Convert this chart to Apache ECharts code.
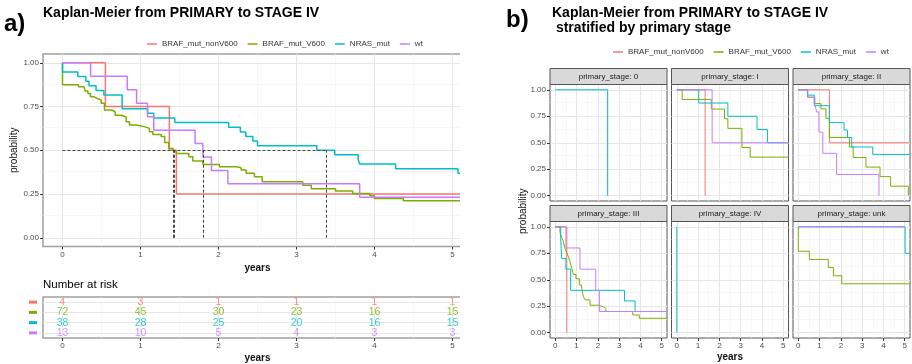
<!DOCTYPE html>
<html>
<head>
<meta charset="utf-8">
<script src="https://cdn.jsdelivr.net/npm/echarts@6/dist/echarts.min.js"></script>
<style>
  html, body { margin: 0; padding: 0; background: #fff; }
  #chart { width: 912px; height: 364px; }
</style>
</head>
<body>
<div id="chart"></div>
<script>
const groups = ["BRAF_mut_nonV600", "BRAF_mut_V600", "NRAS_mut", "wt"];
const groupColors = ["#F8766D", "#7CAE00", "#00BFC4", "#C77CFF"];

// overall curves, [years, survival probability]
const kmNonV600 = [[0, 1], [0.55, 0.75], [1.37, 0.5], [1.46, 0.25], [5.25, 0.25]];
const kmV600 = [[0, 1], [0, 0.875], [0.205, 0.863], [0.274, 0.853], [0.291, 0.838], [0.325, 0.825],
  [0.359, 0.806], [0.402, 0.796], [0.444, 0.787], [0.496, 0.768], [0.538, 0.73], [0.632, 0.72],
  [0.675, 0.70], [0.752, 0.69], [0.816, 0.663], [0.859, 0.644], [0.944, 0.635], [1.05, 0.625],
  [1.115, 0.606], [1.158, 0.59], [1.265, 0.578], [1.31, 0.545], [1.363, 0.51], [1.42, 0.497],
  [1.457, 0.482], [1.62, 0.463], [1.671, 0.438], [1.80, 0.419], [2.013, 0.406], [2.23, 0.40],
  [2.29, 0.387], [2.355, 0.368], [2.46, 0.349], [2.56, 0.32], [3.08, 0.30], [3.19, 0.28],
  [3.5, 0.267], [3.72, 0.253], [3.94, 0.24], [4.0, 0.225], [4.37, 0.211], [5.25, 0.211]];
const kmNras = [[0, 1], [0, 0.947], [0.196, 0.921], [0.30, 0.895], [0.34, 0.868], [0.43, 0.842],
  [0.53, 0.816], [0.765, 0.737], [1.09, 0.711], [1.17, 0.684], [1.44, 0.658], [2.13, 0.632],
  [2.28, 0.605], [2.35, 0.579], [2.44, 0.553], [2.50, 0.526], [3.26, 0.50], [3.49, 0.474],
  [3.79, 0.447], [3.81, 0.421], [4.27, 0.395], [5.07, 0.368], [5.25, 0.368]];
const kmWt = [[0, 1], [0.36, 0.923], [0.83, 0.846], [0.95, 0.769], [1.09, 0.692], [1.17, 0.615],
  [1.70, 0.538], [1.80, 0.462], [1.91, 0.385], [2.12, 0.308], [3.81, 0.231], [5.25, 0.231]];
const medians = [1.415, 1.435, 1.80, 3.375];

// number at risk
const riskTimes = [0, 1, 2, 3, 4, 5];
const riskNonV600 = [4, 3, 1, 1, 1, 1];
const riskV600 = [72, 45, 30, 23, 16, 15];
const riskNras = [38, 28, 25, 20, 16, 15];
const riskWt = [13, 10, 5, 4, 3, 3];

// curves by primary stage
const stageLabels = ["0", "I", "II", "III", "IV", "unk"];
const stage0 = { NRAS_mut: [[0, 1], [2.46, 0]] };
const stageI = {
  BRAF_mut_nonV600: [[0, 1], [1.33, 0]],
  BRAF_mut_V600: [[0, 1], [0.25, 0.909], [1.62, 0.818], [2.24, 0.727], [2.40, 0.636], [3.06, 0.455], [3.45, 0.364], [5.25, 0.364]],
  NRAS_mut: [[0, 1], [1.03, 0.875], [2.40, 0.75], [3.77, 0.625], [4.26, 0.5], [5.25, 0.5]],
  wt: [[0, 1], [1.66, 0.5], [5.25, 0.5]],
};
const stageII = {
  BRAF_mut_nonV600: [[0, 1], [1.46, 0.5], [5.25, 0.5]],
  BRAF_mut_V600: [[0, 1], [0.43, 0.93], [0.75, 0.87], [1.06, 0.82], [1.30, 0.73], [1.46, 0.55], [2.40, 0.46], [2.58, 0.36], [3.18, 0.27], [3.84, 0.18], [4.34, 0.09], [5.17, 0]],
  NRAS_mut: [[0, 1], [0.43, 0.95], [0.75, 0.85], [1.46, 0.69], [2.15, 0.62], [2.31, 0.55], [2.51, 0.46], [3.50, 0.39], [5.25, 0.39]],
  wt: [[0, 1], [0.45, 0.93], [0.78, 0.86], [0.86, 0.79], [0.97, 0.6], [1.15, 0.4], [1.80, 0.2], [3.79, 0]],
};
const stageIII = {
  BRAF_mut_nonV600: [[0, 1], [0.54, 0]],
  BRAF_mut_V600: [[0, 1], [0.22, 0.95], [0.3, 0.9], [0.38, 0.86], [0.45, 0.8], [0.53, 0.76], [0.61, 0.72], [0.69, 0.67], [0.77, 0.61], [0.85, 0.55], [0.97, 0.51], [1.13, 0.45], [1.24, 0.42], [1.32, 0.34], [1.40, 0.31], [1.63, 0.26], [2.02, 0.245], [2.26, 0.23], [2.38, 0.2], [3.64, 0.167], [3.95, 0.136], [5.25, 0.136]],
  NRAS_mut: [[0, 1], [0.25, 0.9], [0.3, 0.7], [0.5, 0.6], [0.72, 0.4], [3.25, 0.3], [3.75, 0.2], [5.25, 0.2]],
  wt: [[0, 1], [0.5, 0.8], [1.16, 0.6], [1.9, 0.4], [2.07, 0.2], [5.25, 0.2]],
};
const stageIV = { NRAS_mut: [[0, 1], [0, 0]] };
const stageUnk = {
  BRAF_mut_V600: [[0, 1], [0, 0.769], [0.52, 0.692], [1.41, 0.615], [1.65, 0.538], [2.04, 0.462], [5.25, 0.462]],
  NRAS_mut: [[0, 1], [5.02, 0.75], [5.25, 0.75]],
  wt: [[0, 1], [5.02, 1]],
};
const stages = [stage0, stageI, stageII, stageIII, stageIV, stageUnk];

const yearTicks = [0, 1, 2, 3, 4, 5];
const yearMinor = [0.5, 1.5, 2.5, 3.5, 4.5];
const probTicks = [0, 0.25, 0.5, 0.75, 1];
const probMinor = [0.125, 0.375, 0.625, 0.875];

const FONT = '"Liberation Sans", Arial, sans-serif';
const TICK_COLOR = "#4d4d4d";

const chart = echarts.init(document.getElementById("chart"), null, { renderer: "canvas" });

function gridLines(xMajor, xMinor, yMajor, yMinor) {
  const major = { color: "#e6e6e6", width: 1, type: "solid" };
  const minor = { color: "#f2f2f2", width: 0.6, type: "solid" };
  return {
    silent: true,
    symbol: "none",
    z: 1,
    animation: false,
    label: { show: false },
    emphasis: { disabled: true },
    data: [
      ...xMinor.map((v) => ({ xAxis: v, lineStyle: minor })),
      ...yMinor.map((v) => ({ yAxis: v, lineStyle: minor })),
      ...xMajor.map((v) => ({ xAxis: v, lineStyle: major })),
      ...yMajor.map((v) => ({ yAxis: v, lineStyle: major })),
    ],
  };
}

function kmLine(name, data, gridIdx, width) {
  const color = groupColors[groups.indexOf(name)];
  return {
    name,
    type: "line",
    step: "end",
    xAxisIndex: gridIdx,
    yAxisIndex: gridIdx,
    data,
    symbol: "none",
    showSymbol: false,
    z: 2,
    itemStyle: { color },
    lineStyle: { color, width },
    emphasis: { disabled: true },
    animation: false,
  };
}

function xAxisFor(gridIndex, min, max, showLabels, extra) {
  return Object.assign({
    type: "value",
    gridIndex,
    min,
    max,
    axisLine: { show: false, onZero: false },
    splitLine: { show: false },
    axisTick: { show: showLabels, length: 3, lineStyle: { color: "#333" }, customValues: yearTicks },
    axisLabel: {
      show: showLabels, customValues: yearTicks, fontSize: 8, color: TICK_COLOR,
      margin: 4, fontFamily: FONT,
    },
  }, extra || {});
}

function yAxisFor(gridIndex, showLabels, extra) {
  return Object.assign({
    type: "value",
    gridIndex,
    min: -0.05,
    max: 1.05,
    axisLine: { show: false, onZero: false },
    splitLine: { show: false },
    axisTick: { show: showLabels, length: 3, lineStyle: { color: "#333" }, customValues: probTicks },
    axisLabel: {
      show: showLabels, customValues: probTicks, fontSize: 8, color: TICK_COLOR,
      margin: 4, fontFamily: FONT, formatter: (v) => v.toFixed(2),
    },
  }, extra || {});
}

// ---- layout
const mainGrid = { left: 43, top: 54, width: 429, height: 192.5 };
const riskGrid = { left: 43, top: 297, width: 429, height: 41 };
const facetLeft = [550, 671.5, 793];
const facetTop = [84.5, 221.5];
const facetW = 117;
const facetH = 116.5;
const stripH = 16;

const grids = [
  Object.assign({ show: true, borderColor: "#a0a0a0", borderWidth: 1.5, backgroundColor: "#fff" }, mainGrid),
  Object.assign({ show: true, borderColor: "#a0a0a0", borderWidth: 1.5, backgroundColor: "#fff" }, riskGrid),
];
const xAxes = [
  xAxisFor(0, -0.25, 5.25, true, {
    name: "years", nameLocation: "middle", nameGap: 15,
    nameTextStyle: { fontSize: 10, fontWeight: "bold", color: "#111", fontFamily: FONT },
  }),
  xAxisFor(1, -0.25, 5.25, true, {
    name: "years", nameLocation: "middle", nameGap: 15,
    nameTextStyle: { fontSize: 10, fontWeight: "bold", color: "#111", fontFamily: FONT },
  }),
];
const yAxes = [
  yAxisFor(0, true, {
    name: "probability", nameLocation: "middle", nameGap: 21,
    nameTextStyle: { fontSize: 10, color: "#111", fontFamily: FONT },
  }),
  {
    type: "category",
    gridIndex: 1,
    data: groups,
    inverse: true,
    axisLine: { show: false },
    axisTick: { show: false },
    splitLine: { show: false },
    axisLabel: {
      interval: 0,
      margin: 6,
      formatter: (v, i) => `{c${i}|}`,
      rich: Object.fromEntries(groupColors.map((c, i) => [`c${i}`, { backgroundColor: c, width: 8, height: 3 }])),
    },
  },
];

const series = [];

// main KM plot
[kmNonV600, kmV600, kmNras, kmWt].forEach((d, i) => {
  const s = kmLine(groups[i], d, 0, 1.5);
  if (i === 0) s.markLine = gridLines(yearTicks, yearMinor, probTicks, probMinor);
  if (i === 3) {
    s.markLine = {
      silent: true,
      symbol: "none",
      z: 4,
      animation: false,
      label: { show: false },
      emphasis: { disabled: true },
      lineStyle: { color: "#444", width: 1, type: [3, 2] },
      data: [
        [{ coord: [0, 0.5] }, { coord: [Math.max(...medians), 0.5] }],
        ...medians.map((m) => [{ coord: [m, 0] }, { coord: [m, 0.5] }]),
      ],
    };
  }
  series.push(s);
});

// number at risk table
[riskNonV600, riskV600, riskNras, riskWt].forEach((arr, i) => {
  const s = {
    name: groups[i],
    type: "scatter",
    xAxisIndex: 1,
    yAxisIndex: 1,
    symbolSize: 1,
    z: 3,
    itemStyle: { color: "transparent" },
    data: riskTimes.map((t, k) => [t, groups[i], arr[k]]),
    label: {
      show: true,
      position: "inside",
      formatter: (p) => String(p.value[2]),
      color: groupColors[i],
      fontSize: 10.5,
      fontFamily: FONT,
    },
    emphasis: { disabled: true },
    animation: false,
  };
  if (i === 0) s.markLine = gridLines(yearTicks, yearMinor, groups, []);
  series.push(s);
});

// facets
const graphics = [];
stages.forEach((st, k) => {
  const row = Math.floor(k / 3);
  const col = k % 3;
  const gi = grids.length;
  const left = facetLeft[col];
  const top = facetTop[row];
  grids.push({ left, top, width: facetW, height: facetH, show: true, borderColor: "#555", borderWidth: 1, backgroundColor: "#fff" });
  const xExtra = k === 4 ? {
    name: "years", nameLocation: "middle", nameGap: 14,
    nameTextStyle: { fontSize: 10, fontWeight: "bold", color: "#111", fontFamily: FONT },
  } : {};
  xAxes.push(xAxisFor(gi, -0.25, 5.25, row === 1, xExtra));
  yAxes.push(yAxisFor(gi, col === 0));
  let first = true;
  groups.forEach((g) => {
    if (!st[g]) return;
    const s = kmLine(g, st[g], gi, 1);
    if (first) s.markLine = gridLines(yearTicks, yearMinor, probTicks, probMinor);
    first = false;
    series.push(s);
  });
  graphics.push({
    type: "rect",
    shape: { x: left, y: top - stripH, width: facetW, height: stripH },
    style: { fill: "#d9d9d9", stroke: "#555", lineWidth: 1 },
    z: 10,
  });
  graphics.push({
    type: "text",
    x: left + facetW / 2,
    y: top - stripH / 2,
    style: {
      text: "primary_stage: " + stageLabels[k],
      align: "center", verticalAlign: "middle",
      fontSize: 8, fontFamily: FONT, fill: "#1a1a1a",
    },
    z: 11,
  });
});

// shared y-axis title for the facets
const helperIdx = grids.length;
grids.push({ left: facetLeft[0], top: facetTop[0], width: facetW, height: facetTop[1] + facetH - facetTop[0], show: false });
xAxes.push({ type: "value", gridIndex: helperIdx, show: false, min: 0, max: 1 });
yAxes.push({
  type: "value", gridIndex: helperIdx, min: 0, max: 1,
  axisLine: { show: false }, axisTick: { show: false }, axisLabel: { show: false }, splitLine: { show: false },
  name: "probability", nameLocation: "middle", nameGap: 22,
  nameTextStyle: { fontSize: 10, color: "#111", fontFamily: FONT },
});

// the source image cuts panel a) off at its right edge
graphics.push({
  type: "rect",
  shape: { x: 460, y: 36, width: 40, height: 328 },
  style: { fill: "#fff" },
  z: 100,
});

const legendBase = {
  data: groups,
  icon: "rect",
  itemWidth: 10,
  itemHeight: 1.5,
  itemGap: 10,
  padding: 0,
  selectedMode: false,
  textStyle: { fontSize: 8, color: "#333", fontFamily: FONT },
};

const titleStyle = { fontSize: 14, fontWeight: "bold", color: "#000", fontFamily: FONT, lineHeight: 15 };

chart.setOption({
  animation: false,
  textStyle: { fontFamily: FONT },
  title: [
    { text: "a)", left: 4, top: 12, padding: 0, textStyle: { fontSize: 24, fontWeight: "bold", color: "#000", fontFamily: FONT } },
    { text: "Kaplan-Meier from PRIMARY to STAGE IV", left: 43, top: 6, padding: 0, textStyle: titleStyle },
    { text: "b)", left: 506, top: 8, padding: 0, textStyle: { fontSize: 24, fontWeight: "bold", color: "#000", fontFamily: FONT } },
    { text: "Kaplan-Meier from PRIMARY to STAGE IV\n stratified by primary stage", left: 552, top: 6, padding: 0, textStyle: titleStyle },
    { text: "Number at risk", left: 43, top: 279, padding: 0, textStyle: { fontSize: 11.5, fontWeight: "normal", color: "#000", fontFamily: FONT } },
  ],
  legend: [
    Object.assign({ left: 147, top: 40 }, legendBase),
    Object.assign({ left: 613, top: 48 }, legendBase),
  ],
  grid: grids,
  xAxis: xAxes,
  yAxis: yAxes,
  series,
  graphic: graphics,
});
</script>
</body>
</html>
